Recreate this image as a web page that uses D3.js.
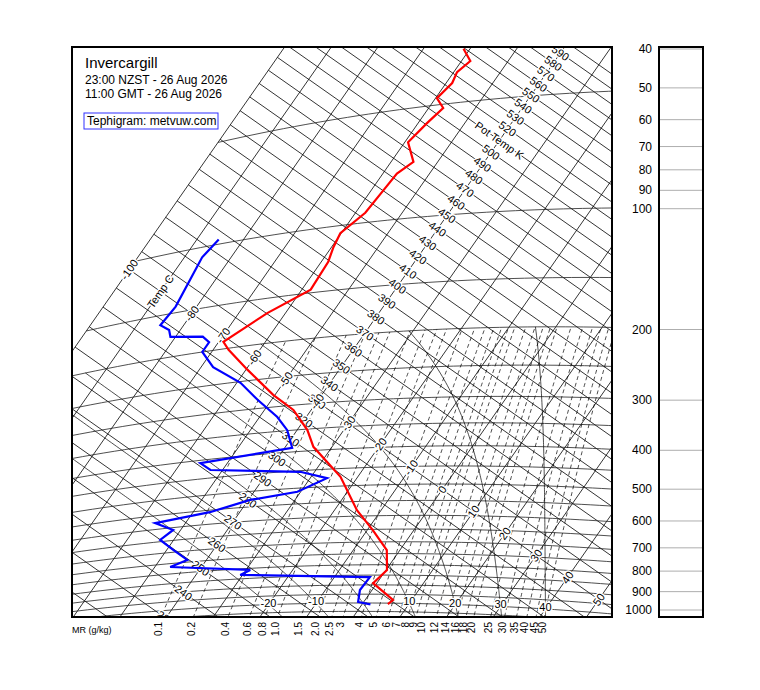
<!DOCTYPE html>
<html>
<head>
<meta charset="utf-8">
<script src="https://d3js.org/d3.v7.min.js"></script>
<style>
body { margin:0; background:#fff; }
text { font-family: "Liberation Sans", Arial, sans-serif; }
</style>
</head>
<body>
<svg id="chart" width="760" height="690"></svg>
<script>
// sounding: pressure (hPa) and temperature (C)
var tempP = [1006, 982, 891, 825, 735, 653, 579, 473, 391, 352, 309, 278, 233, 202, 191, 165, 147, 125, 114, 105, 94, 83, 75, 70.5, 62, 55.7, 51.2, 47.9, 44, 41.2, 38.8, 35.7];
var tempC = [5.5, 6.0, -0.8, 0.2, -2.8, -8.8, -15.2, -23.7, -34.0, -37.8, -43.8, -50.4, -59.7, -66.7, -69.0, -63.9, -58.1, -58.5, -59.6, -60.2, -57.9, -57.4, -57.0, -55.2, -59.3, -58.1, -56.9, -59.7, -58.7, -59.3, -58.1, -61.4];
var dewP = [1008, 994, 927, 860, 830, 808, 766, 740, 690, 643, 609, 576, 557, 527, 511, 475, 453, 428, 407, 390, 349, 320, 284, 252, 223, 200, 189, 181, 175, 167, 160, 144, 107, 97];
var dewC = [1.8, -1.2, -2.6, -2.4, -30.5, -29.1, -46.7, -44.1, -48.6, -52.9, -51.6, -56.5, -46.4, -39.6, -30.7, -26.4, -33.1, -52.6, -55.8, -38.4, -42.1, -46.2, -53.0, -59.2, -67.4, -72.0, -72.0, -74.2, -81.1, -82.4, -85.0, -84.5, -86.2, -85.3];

var pressureTicks = [40, 50, 60, 70, 80, 90, 100, 200, 300, 400, 500, 600, 700, 800, 900, 1000];
var isobars = [1050, 1000, 950, 900, 850, 800, 750, 700, 650, 600, 550, 500, 450, 400, 350, 300, 250, 200, 150, 100, 50];
var isotherms = d3.range(-100, 61, 10);
var isothermLabels = [-100, -90, -80, -70, -60, -50, -40, -30, -20, -10, 0, 10, 20, 30, 40, 50];
var adiabats = d3.range(200, 601, 10);
var adiabatLabels = d3.range(230, 591, 10);
var mrValues = [0.1, 0.2, 0.4, 0.6, 0.8, 1.0, 1.5, 2.0, 2.5, 3, 4, 5, 6, 7, 8, 9, 10, 12, 14, 16, 18, 20, 25, 30, 35, 40, 45, 50];
var mrText = ["0.1", "0.2", "0.4", "0.6", "0.8", "1.0", "1.5", "2.0", "2.5", "3", "4", "5", "6", "7", "8", "9", "10", "12", "14", "16", "18", "20", "25", "30", "35", "40", "45", "50"];
var wetAdiabats = [-20, -10, 0, 10, 20, 30, 40];

var svg = d3.select("#chart");
var pLeft = 72, pRight = 612, pTop = 47, pBottom = 617;

// tephigram axes: screen = f(T) + g(ln theta)
var tX = d3.scaleLinear().domain([0, 10]).range([0, 31.3]);
var tY = d3.scaleLinear().domain([0, 10]).range([0, 22]);
var thX = d3.scaleLog().domain([1, Math.E]).range([-1987.6, -1987.6 + 419]);
var thY = d3.scaleLog().domain([1, Math.E]).range([3969, 3969 - 600]);
var yP = d3.scaleLog().domain([1000, 40]).range([610, 49]);

function theta(t, p) { return (t + 273.15) * Math.pow(1000 / p, 0.286); }
function sx(t, th) { return tX(t) + thX(th); }
function sy(t, th) { return tY(t) + thY(th); }
function ptX(p, t) { return sx(t, theta(t, p)); }
function ptY(p, t) { return sy(t, theta(t, p)); }

var lineTP = d3.line().x(function (d) { return ptX(d[0], d[1]); }).y(function (d) { return ptY(d[0], d[1]); });
var lineTT = d3.line().x(function (d) { return sx(d[0], d[1]); }).y(function (d) { return sy(d[0], d[1]); });

svg.append("clipPath").attr("id", "clip").append("rect")
    .attr("x", pLeft).attr("y", pTop).attr("width", pRight - pLeft).attr("height", pBottom - pTop);
var g = svg.append("g").attr("clip-path", "url(#clip)");

// isotherms
isotherms.forEach(function (t) {
    g.append("path").attr("d", lineTT([[t, 150], [t, 900]]))
        .attr("stroke", "#000").attr("stroke-width", 0.8).attr("fill", "none");
});
// dry adiabats, only warmer than -100 C
adiabats.forEach(function (th) {
    g.append("path").attr("d", lineTT([[-100, th], [80, th]]))
        .attr("stroke", "#000").attr("stroke-width", 0.8).attr("fill", "none");
});
// isobars, also only warmer than -100 C
isobars.forEach(function (p) {
    var pts = d3.range(-100, 81, 2).map(function (t) { return [p, t]; });
    g.append("path").attr("d", lineTP(pts))
        .attr("stroke", "#222").attr("stroke-width", 0.8).attr("fill", "none");
});

// saturation vapour pressure and mixing ratio
function es(t) { return 6.112 * Math.exp(17.67 * t / (t + 243.5)); }
function tFromE(e) { var l = Math.log(e / 6.112); return 243.5 * l / (17.67 - l); }

mrValues.forEach(function (w) {
    var pts = d3.range(1100, 199, -10).map(function (p) {
        return [p, tFromE(w * p / (622 + w))];
    });
    g.append("path").attr("d", lineTP(pts))
        .attr("stroke", "#000").attr("stroke-width", 0.7).attr("stroke-dasharray", "4,3").attr("fill", "none");
});

// saturated adiabats
function moistStep(t, p, dp) {
    var T = t + 273.15, e = es(t), rs = 0.622 * e / (p - e);
    var dTdp = (287 * T + 2.5e6 * rs) / (p * (1004 + 2.5e6 * 2.5e6 * rs * 0.622 / (287 * T * T)));
    return t + dTdp * dp;
}
wetAdiabats.forEach(function (tw) {
    var pts = [], t = tw, p;
    for (p = 1000; p >= 200; p -= 5) { pts.push([p, t]); t = moistStep(t, p, -5); }
    var down = [], t2 = tw;
    for (p = 1000; p <= 1100; p += 5) { t2 = moistStep(t2, p, 5); down.push([p + 5, t2]); }
    pts = down.reverse().concat(pts);
    g.append("path").attr("d", lineTP(pts))
        .attr("stroke", "#000").attr("stroke-width", 0.7).attr("fill", "none");
});

// labels with white halo
function label(x, y, txt, angle, size) {
    g.append("text").attr("x", x).attr("y", y)
        .attr("transform", "rotate(" + angle + "," + x + "," + y + ")")
        .attr("text-anchor", "middle").attr("dominant-baseline", "central")
        .attr("font-size", size || 11).attr("fill", "#000")
        .attr("stroke", "#fff").attr("stroke-width", 3).attr("paint-order", "stroke")
        .text(txt);
}
var adAngle = Math.atan2(2.2, 3.13) * 180 / Math.PI;
var isoAngle = Math.atan2(-600, 419) * 180 / Math.PI;
adiabatLabels.forEach(function (th) {
    label(sx(-40, th), sy(-40, th), th == 510 ? "Pot Temp K" : th, adAngle);
});
isothermLabels.forEach(function (t) {
    label(sx(t, 330), sy(t, 330), t == -90 ? "Temp C" : t, isoAngle);
});
wetAdiabats.forEach(function (tw) {
    if (tw == 0) return;
    label(ptX(1000, tw), ptY(1000, tw) - 2, tw, 0);
});

// sounding
var temp = tempP.map(function (p, i) { return [p, tempC[i]]; });
var dew = dewP.map(function (p, i) { return [p, dewC[i]]; });
g.append("path").attr("d", lineTP(temp)).attr("stroke", "#ff0000").attr("stroke-width", 2.2).attr("fill", "none");
g.append("path").attr("d", lineTP(dew)).attr("stroke", "#0000ff").attr("stroke-width", 2.2).attr("fill", "none");

// header
svg.append("text").attr("x", 85).attr("y", 68).attr("font-size", 15).text("Invercargill");
svg.append("text").attr("x", 85).attr("y", 84).attr("font-size", 12).text("23:00 NZST - 26 Aug 2026");
svg.append("text").attr("x", 85).attr("y", 98).attr("font-size", 12).text("11:00 GMT - 26 Aug 2026");
svg.append("rect").attr("x", 84).attr("y", 113).attr("width", 134).attr("height", 16)
    .attr("fill", "#fff").attr("stroke", "#3030ff").attr("stroke-width", 1);
svg.append("text").attr("x", 87).attr("y", 125).attr("font-size", 12).text("Tephigram: metvuw.com");

svg.append("rect").attr("x", pLeft).attr("y", pTop).attr("width", pRight - pLeft).attr("height", pBottom - pTop)
    .attr("fill", "none").attr("stroke", "#000").attr("stroke-width", 2);

// mixing ratio labels under the chart
function mrBottomX(w) {
    var p = 1000;
    for (var k = 0; k < 200; k++) {
        if (ptY(p, tFromE(w * p / (622 + w))) >= pBottom) break;
        p += 1;
    }
    return ptX(p, tFromE(w * p / (622 + w)));
}
svg.append("text").attr("x", 72).attr("y", 633).attr("font-size", 9).text("MR (g/kg)");
mrValues.forEach(function (w, i) {
    var x = mrBottomX(w) - 2;
    svg.append("text").attr("x", x).attr("y", 622)
        .attr("transform", "rotate(-90," + x + ",622)")
        .attr("text-anchor", "end").attr("dominant-baseline", "central")
        .attr("font-size", 10).text(mrText[i]);
});

// right pressure panel
var panel = svg.append("g");
pressureTicks.forEach(function (p) {
    panel.append("line").attr("x1", 659).attr("x2", 703).attr("y1", yP(p)).attr("y2", yP(p))
        .attr("stroke", "#999").attr("stroke-width", 0.8);
    panel.append("text").attr("x", 652).attr("y", yP(p)).attr("text-anchor", "end")
        .attr("dominant-baseline", "central").attr("font-size", 12).text(p);
});
panel.append("rect").attr("x", 659).attr("y", pTop).attr("width", 44).attr("height", pBottom - pTop)
    .attr("fill", "none").attr("stroke", "#000").attr("stroke-width", 2);
</script>
</body>
</html>
